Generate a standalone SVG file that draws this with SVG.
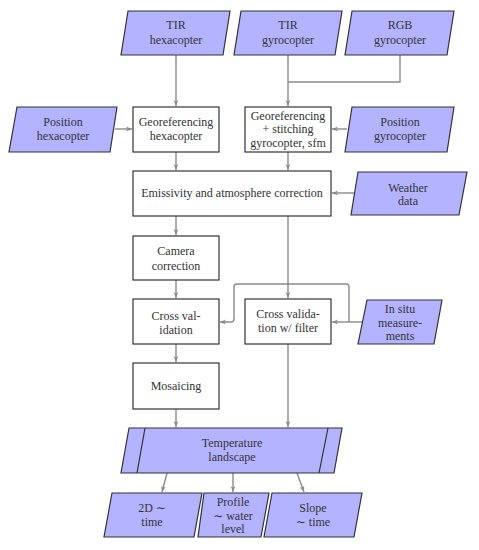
<svg xmlns="http://www.w3.org/2000/svg" width="479" height="550" viewBox="0 0 479 550">
<defs>
<marker id="arr" viewBox="0 0 10 10" refX="10" refY="5" markerWidth="6" markerHeight="6" markerUnits="userSpaceOnUse" orient="auto">
<path d="M0,1 L10,5 L0,9 L3,5 Z" fill="#8a8a8a"/>
</marker>
<style>
.io{fill:#b3b3ff;stroke:#333;stroke-width:1.2}
.pr{fill:#fff;stroke:#333;stroke-width:1.2}
.ln{fill:none;stroke:#8a8a8a;stroke-width:1.4}
.t{font-family:'Liberation Serif','DejaVu Serif',serif;font-size:12px;fill:#333;text-anchor:middle}
</style>
</defs>
<rect width="479" height="550" fill="#fff"/>
<g id="connectors">
<path class="ln" d="M176,55 V106" marker-end="url(#arr)"/>
<path class="ln" d="M288,55 V106" marker-end="url(#arr)"/>
<path class="ln" d="M400,55 V82 H288"/>
<path class="ln" d="M115,129 H132" marker-end="url(#arr)"/>
<path class="ln" d="M347,129 H332" marker-end="url(#arr)"/>
<path class="ln" d="M176,152 V170" marker-end="url(#arr)"/>
<path class="ln" d="M288,152 V170" marker-end="url(#arr)"/>
<path class="ln" d="M355,193 H332" marker-end="url(#arr)"/>
<path class="ln" d="M176,216 V235" marker-end="url(#arr)"/>
<path class="ln" d="M288,216 V298" marker-end="url(#arr)"/>
<path class="ln" d="M176,280 V298" marker-end="url(#arr)"/>
<path class="ln" d="M362,322 H332" marker-end="url(#arr)"/>
<path class="ln" d="M349,322 V287 Q349,284 346,284 H237 Q234,284 234,287 V319 Q234,322 231,322 H220" marker-end="url(#arr)"/>
<path class="ln" d="M176,344 V362" marker-end="url(#arr)"/>
<path class="ln" d="M176,409 V427" marker-end="url(#arr)"/>
<path class="ln" d="M288,344 V427" marker-end="url(#arr)"/>
<path class="ln" d="M167,473 L162,492" marker-end="url(#arr)"/>
<path class="ln" d="M233,473 V492" marker-end="url(#arr)"/>
<path class="ln" d="M297,473 L304,492" marker-end="url(#arr)"/>
</g>
<g id="tir-hexa">
<polygon class="io" points="128,11 230,11 223,55 121,55"/>
<text class="t" x="176" y="29">TIR</text>
<text class="t" x="176" y="44">hexacopter</text>
</g>
<g id="tir-gyro">
<polygon class="io" points="241,11 342,11 335,55 234,55"/>
<text class="t" x="288" y="29">TIR</text>
<text class="t" x="288" y="44">gyrocopter</text>
</g>
<g id="rgb-gyro">
<polygon class="io" points="352,11 454,11 447,55 345,55"/>
<text class="t" x="400" y="29">RGB</text>
<text class="t" x="400" y="44">gyrocopter</text>
</g>
<g id="pos-hexa">
<polygon class="io" points="17,107 117,107 110,152 9,152"/>
<text class="t" x="63" y="126">Position</text>
<text class="t" x="63" y="140">hexacopter</text>
</g>
<g id="georef-hexa">
<rect class="pr" x="133" y="107" width="86" height="45"/>
<text class="t" x="176" y="126">Georeferencing</text>
<text class="t" x="176" y="140">hexacopter</text>
</g>
<g id="georef-gyro">
<rect class="pr" x="245" y="107" width="86" height="45"/>
<text class="t" x="288" y="120">Georeferencing</text>
<text class="t" x="288" y="133">+ stitching</text>
<text class="t" x="288" y="147">gyrocopter, sfm</text>
</g>
<g id="pos-gyro">
<polygon class="io" points="352,107 454,107 447,152 345,152"/>
<text class="t" x="400" y="126">Position</text>
<text class="t" x="400" y="140">gyrocopter</text>
</g>
<g id="emissivity">
<rect class="pr" x="133" y="171" width="198" height="45"/>
<text class="t" x="232" y="197">Emissivity and atmosphere correction</text>
</g>
<g id="weather">
<polygon class="io" points="358,172 467,172 459,215 351,215"/>
<text class="t" x="408" y="192">Weather</text>
<text class="t" x="408" y="205">data</text>
</g>
<g id="camera">
<rect class="pr" x="133" y="236" width="86" height="44"/>
<text class="t" x="176" y="255">Camera</text>
<text class="t" x="176" y="270">correction</text>
</g>
<g id="crossval">
<rect class="pr" x="133" y="299" width="86" height="45"/>
<text class="t" x="176" y="320">Cross val-</text>
<text class="t" x="176" y="334">idation</text>
</g>
<g id="crossval-filter">
<rect class="pr" x="245" y="299" width="86" height="45"/>
<text class="t" x="288" y="318">Cross valida-</text>
<text class="t" x="288" y="332">tion w/ filter</text>
</g>
<g id="insitu">
<polygon class="io" points="367,300 442,300 434,344 358,344"/>
<text class="t" x="400" y="313">In situ</text>
<text class="t" x="400" y="327">measure-</text>
<text class="t" x="400" y="340">ments</text>
</g>
<g id="mosaicing">
<rect class="pr" x="133" y="363" width="86" height="46"/>
<text class="t" x="176" y="390">Mosaicing</text>
</g>
<g id="temperature">
<polygon class="io" points="129,428 342,428 334,473 121,473"/>
<line class="io" x1="145" y1="428" x2="137" y2="473"/>
<line class="io" x1="328" y1="428" x2="319" y2="473"/>
<text class="t" x="232" y="447">Temperature</text>
<text class="t" x="232" y="461">landscape</text>
</g>
<g id="out-2d">
<polygon class="io" points="112,493 202,493 194,537 104,537"/>
<text class="t" x="152" y="512">2D ∼</text>
<text class="t" x="152" y="526">time</text>
</g>
<g id="out-profile">
<polygon class="io" points="204,493 269,493 261,537 198,537"/>
<text class="t" x="233" y="506">Profile</text>
<text class="t" x="233" y="520">∼ water</text>
<text class="t" x="233" y="533">level</text>
</g>
<g id="out-slope">
<polygon class="io" points="272,493 362,493 354,537 264,537"/>
<text class="t" x="313" y="512">Slope</text>
<text class="t" x="313" y="526">∼ time</text>
</g>
</svg>
